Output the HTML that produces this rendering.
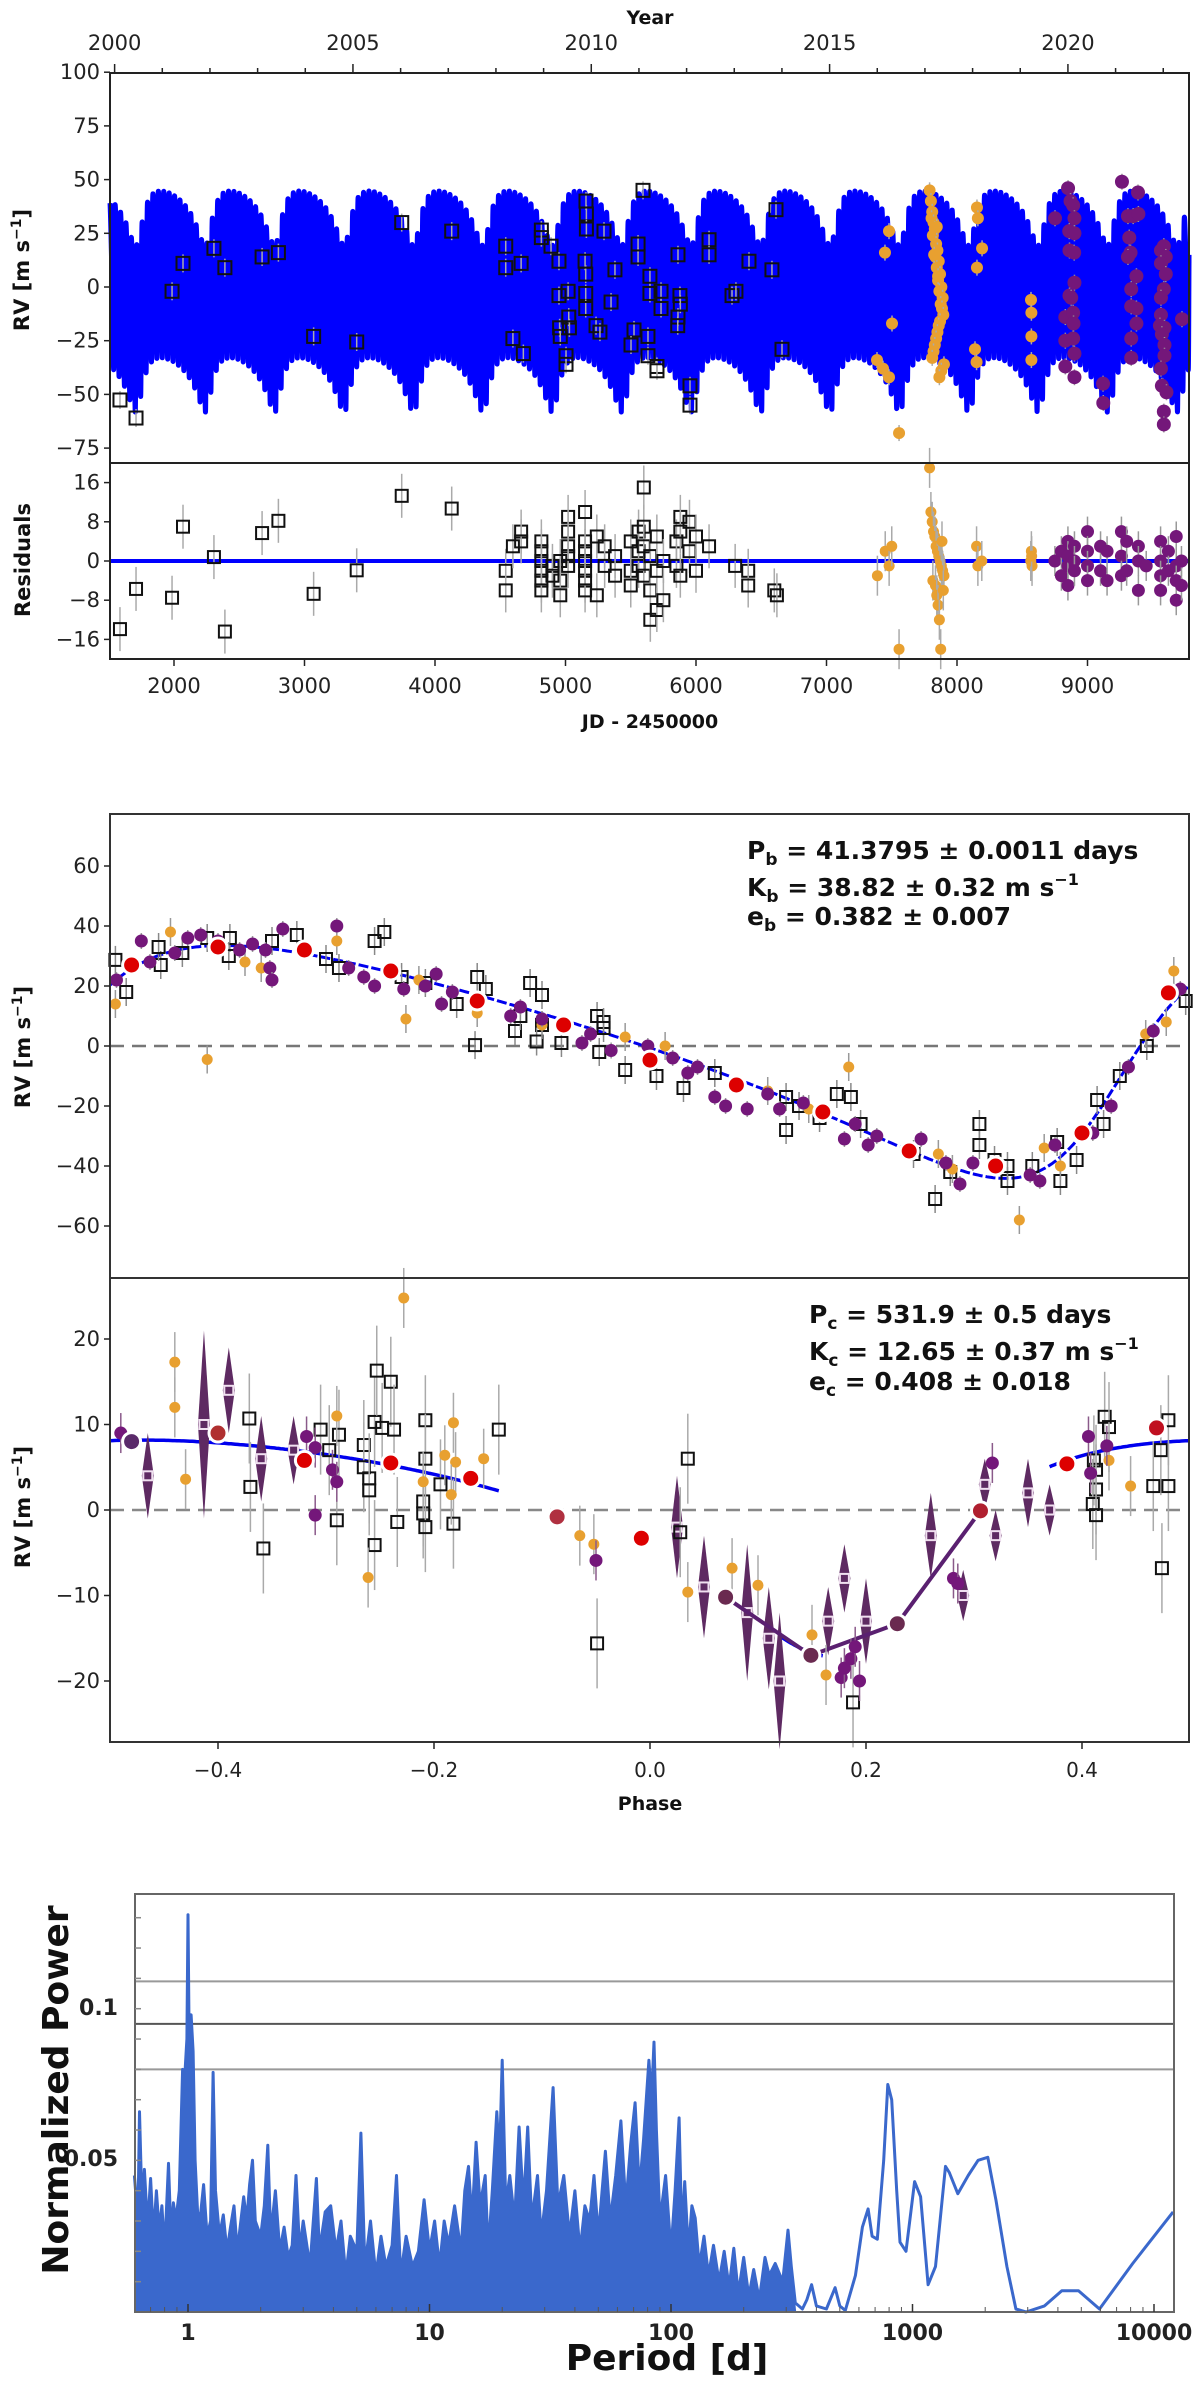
<!DOCTYPE html>
<html><head><meta charset="utf-8"><style>
html,body{margin:0;padding:0;background:#fff;}
svg{display:block;font-family:"DejaVu Sans","Liberation Sans",sans-serif;}
</style></head><body>
<svg id="fig" width="1200" height="2399" viewBox="0 0 1200 2399" xmlns="http://www.w3.org/2000/svg">
<rect width="1200" height="2399" fill="#fff"/>
<g id="p1"></g>
<g id="p1r"></g>
<g id="p2"></g>
<g id="p3"></g>
<g id="p4"></g>
</svg>
<script>
// ---------- planet parameters ----------
const planetB = {P:41.3795, K:38.82, e:0.382, w:-111, tp:1500, phPeri:0.42};
const planetC = {P:531.9, K:12.65, e:0.408, w:-150, tp:1724, phPeri:0.2};
// ---------- top panel data (JD-2450000, RV) ----------
const hiresJD = [1586,1709,1985,2069,2306,2390,2675,2800,3070,3400,3745,4128,4542,4542,4597,4660,4677,4815,4815,4889,4950,4950,4955,4960,5004,5004,5020,5025,5030,5157,5160,5160,5150,5155,5155,5155,5234,5295,5264,5379,5349,5556,5556,5594,5647,5647,5732,5732,5525,5502,5632,5632,5701,5701,5862,5877,5880,5862,5860,5954,5954,6100,6100,6406,6276,6306,6613,6582,6659];
const hiresRV = [-52.6,-61,-2,11,18,9,14,16,-23,-25.6,30,26,19,9,-24,11,-31,26.5,23,19,12,-4,-19,-23,-32,-36,-2,-14,-19,40,34,27,12,6,-3,-10,-18,26,-21,8,-7,20,14,45,5,-3,-2,-10,-20,-27,-23,-32,-37,-39,15,-4,-8,-14,-18,-46,-55,22,15,12,-4,-2,36,8,-29];
const harpsJD = [7479,7448,7502,7387,7433,7479,7556,7790,7800,7810,7805,7820,7830,7815,7840,7850,7835,7860,7845,7870,7855,7880,7865,7890,7875,7885,7895,7870,7860,7850,7840,7830,7820,7810,7900,7880,7865,7845,7825,7855,8153,8160,8192,8153,8138,8150,8567,8570,8570,8570];
const harpsRV = [26,16,-17,-34,-38,-42,-68,45,40,35,32,30,27,24,20,17,14,12,9,6,3,0,-2,-5,-8,-10,-13,-16,-18,-21,-24,-27,-30,-33,-36,-39,-42,28,15,5,37,32,18,9,-29,-35,-6,-12,-23,-34];
const carmJD = [8851,8870,8890,8900,8751,8860,8862,8900,8898,8900,8862,8875,8830,8890,8893,8830,8890,8900,8830,8900,9119,9121,9264,9387,9310,9350,9390,9320,9330,9310,9375,9335,9335,9375,9375,9335,9335,9563,9585,9600,9563,9600,9585,9563,9563,9724,9555,9590,9570,9590,9590,9563,9570,9605,9585,9585];
const carmRV = [46,40,38,32,32,26,17,25,16,2,-4,-5,-14,-12,-17,-25,-24,-31,-37,-42,-45,-54,49,44,33,33,34,23,16,14,5,-1,-9,-10,-17,-24,-33,17,19,14,11,6,-1,-5,-13,-15,-18,-19,-22,-27,-32,-38,-46,-49,-58,-64];
// ---------- residuals ----------
const resHiresJD = [1586,1709,1985,2069,2306,2390,2675,2800,3070,3400,3745,4128,4542,4542,4597,4660,4660,4815,4815,4815,4815,4815,4815,4900,4900,4960,4960,4960,5020,5020,5020,5020,5020,5150,5150,5150,5150,5150,5150,5150,5240,5240,5300,5300,5380,5380,5500,5500,5500,5560,5560,5560,5600,5600,5600,5600,5650,5650,5650,5700,5700,5700,5750,5750,5850,5850,5880,5880,5880,5950,5950,6000,6000,6100,6300,6400,6400,6600,6620];
const resHiresV = [-13.9,-5.7,-7.5,7,0.8,-14.4,5.7,8.2,-6.7,-1.9,13.3,10.7,-2,-6,3,6,4,4,2,0,-2,-4,-6,-1,-3,0,-4,-7,9,6,3,1,-1,10,4,2,0,-2,-4,-6,5,-7,3,-1,1,-3,4,-2,-5,6,2,-1,15,7,3,-3,1,-6,-12,5,-2,-10,0,-8,4,-1,9,6,-3,8,2,5,-2,3,-1,-2,-5,-6,-7];
const resHarpsJD = [7390,7450,7480,7500,7556,7790,7800,7810,7820,7830,7840,7850,7860,7870,7880,7890,7900,7815,7835,7845,7855,7865,7875,7885,7895,8150,8160,8190,8570,8575,8565,8572];
const resHarpsV = [-3,2,-1,3,-18,19,10,8,6,5,3,2,1,0,-1,-2,-3,-4,-5,-7,-9,-12,-18,4,-6,3,-1,0,2,-1,0,1];
const resCarmJD = [8750,8800,8800,8850,8850,8850,8850,8900,8900,8900,9000,9000,9000,9000,9100,9100,9150,9150,9260,9260,9260,9300,9300,9390,9390,9390,9450,9560,9560,9560,9560,9620,9620,9680,9680,9680,9680,9720,9720];
const resCarmV = [0,2,-3,4,-1,1,-5,3,0,-2,6,2,-1,-4,3,-2,2,-4,6,1,-3,4,-2,3,0,-6,-1,4,0,-3,-6,2,-2,5,-1,-4,-8,0,-5];
// ---------- phase b ----------
const binBPh = [-0.48,-0.40,-0.32,-0.24,-0.16,-0.08,0.0,0.08,0.16,0.24,0.32,0.40,0.48];
const binBRV = [27,33,32,25,15,7,-4.7,-13,-22,-35,-40,-29,17.7];
const hiresBPh = [-0.495,-0.485,-0.453,-0.455,-0.433,-0.41,-0.389,-0.39,-0.35,-0.327,-0.3,-0.288,-0.255,-0.246,-0.23,-0.208,-0.179,-0.162,-0.16,-0.152,-0.125,-0.12,-0.111,-0.10,-0.10,-0.105,-0.082,-0.049,-0.047,-0.043,-0.043,-0.023,0.006,0.031,0.06,0.126,0.138,0.126,0.157,0.173,0.186,0.195,0.244,0.264,0.278,0.305,0.305,0.319,0.331,0.331,0.354,0.377,0.395,0.38,0.414,0.42,0.435,0.46,0.496];
const hiresBRV = [28.7,18,27,33,31,36,36,30,35,37,29,26,35,38,23,21,14,0.3,23,19,5,10,21,17,7,1.5,1,10,-2,8,6,-8,-10,-14,-9,-17,-20,-28,-24,-16,-17,-26,-36,-51,-42,-26,-33,-38,-45,-40,-40,-32,-38,-45,-18,-26,-10,0,15];
const carmBPh = [-0.494,-0.471,-0.463,-0.44,-0.428,-0.416,-0.4,-0.38,-0.368,-0.356,-0.352,-0.35,-0.34,-0.29,-0.279,-0.265,-0.255,-0.228,-0.208,-0.198,-0.193,-0.183,-0.129,-0.12,-0.10,-0.063,-0.055,-0.036,-0.002,0.021,0.035,0.044,0.06,0.07,0.09,0.109,0.12,0.142,0.18,0.19,0.202,0.21,0.251,0.274,0.287,0.299,0.352,0.361,0.375,0.41,0.427,0.443,0.466,0.491];
const carmBRV = [22,35,28,31,36,37,35,32,34,32,26,22,39,40,26,23,20,19,20,24,14,18,10,13,9,1,4,-1.5,0,-4,-9,-7,-17,-20,-21,-16,-21,-19,-31,-26,-33,-30,-31,-39,-46,-39,-43,-45,-33,-29,-20,-7,5,19];
const harpsBPh = [-0.495,-0.444,-0.41,-0.375,-0.36,-0.29,-0.226,-0.214,-0.16,-0.1,-0.023,0.014,0.109,0.147,0.184,0.267,0.28,0.342,0.365,0.38,0.459,0.478,0.485];
const harpsBRV = [14,38,-4.5,28,26,35,9,22,11,7,3,0,-15,-21,-7,-36,-41,-58,-34,-40,4,8,25];
// ---------- phase c ----------
const binCPh = [-0.48,-0.40,-0.32,-0.24,-0.166,-0.086,-0.008,0.07,0.149,0.229,0.306,0.386,0.469];
const binCRV = [8,9,5.8,5.5,3.7,-0.8,-3.3,-10.2,-17,-13.3,-0.1,5.4,9.6];
const binCCol = ['#5a2a6a','#b03030','#dd0000','#dd0000','#dd0000','#b03040','#dd0000','#6a2a50','#6a2a50','#6a2a50','#b02030','#dd0000','#c01020'];
const hiresCPh = [-0.371,-0.37,-0.358,-0.305,-0.288,-0.297,-0.29,-0.265,-0.265,-0.26,-0.26,-0.255,-0.255,-0.253,-0.24,-0.248,-0.237,-0.234,-0.208,-0.208,-0.21,-0.21,-0.208,-0.194,-0.182,-0.14,-0.049,0.035,0.028,0.188,0.421,0.425,0.411,0.413,0.413,0.41,0.413,0.473,0.466,0.48,0.474,0.48];
const hiresCRV = [10.7,2.7,-4.5,9.4,8.8,7,-1.2,7.6,5,3.7,2.3,-4.1,10.3,16.3,15,9.6,9.4,-1.4,10.5,6,1,-0.4,-2,3,-1.6,9.4,-15.6,6,-2.6,-22.5,10.9,9.7,5.8,4.7,2.4,0.7,-0.6,7,2.8,2.8,-6.8,10.5];
const harpsCPh = [-0.44,-0.44,-0.43,-0.29,-0.261,-0.228,-0.182,-0.19,-0.18,-0.184,-0.154,-0.21,-0.065,-0.052,0.076,0.1,0.15,0.163,0.035,0.445,0.425];
const harpsCRV = [17.3,12,3.6,11,-7.9,24.8,10.2,6.4,5.6,1.8,6,3.3,-3,-4,-6.8,-8.8,-14.6,-19.3,-9.6,2.8,5.8];
const carmCPh = [-0.49,-0.318,-0.31,-0.294,-0.29,-0.31,-0.05,0.406,0.408,0.423,0.281,0.285,0.177,0.186,0.19,0.194,0.18,0.317];
const carmCRV = [9,8.6,7.3,4.7,3.3,-0.6,-5.9,8.6,4.3,7.5,-8,-8.6,-19.6,-17.4,-16,-20,-18.5,5.5];
const smearCPh = [-0.465,-0.413,-0.39,-0.36,-0.33,0.025,0.05,0.09,0.11,0.12,0.165,0.18,0.2,0.26,0.29,0.31,0.32,0.35,0.37];
const smearCRV = [4,10,14,6,7,-2,-9,-12,-15,-20,-13,-8,-13,-3,-10,3,-3,2,0];
const smearCErr = [5,11,5,5,4,6,6,8,6,8,4,4,5,5,3,3,3,4,3];
// ---------- periodogram ----------
const perP = [0.6,0.62,0.63,0.645,0.66,0.68,0.7,0.72,0.74,0.76,0.78,0.8,0.83,0.85,0.87,0.89,0.92,0.95,0.97,0.99,1.0,1.01,1.03,1.05,1.07,1.1,1.13,1.16,1.2,1.24,1.27,1.3,1.35,1.4,1.45,1.5,1.55,1.6,1.7,1.75,1.8,1.85,1.9,2.0,2.07,2.14,2.2,2.3,2.4,2.5,2.6,2.7,2.8,2.9,3.0,3.2,3.4,3.5,3.7,3.9,4.1,4.3,4.5,4.7,5.0,5.2,5.4,5.7,6.0,6.3,6.6,7.0,7.3,7.6,8.0,8.5,9.0,9.5,10,10.5,11,11.5,12,12.7,13.5,14,14.5,15,15.6,16.2,17,17.5,18.2,19,19.5,20,20.7,21.5,22.5,23.5,24.5,25.5,26.5,28,29,30.5,32.5,34,36,38,40,42,44,46,48,50,53.5,56,59,62,65,68,71,74,77,81,83,85,87,90,95,100,104,108,111,114,118,122,126,131,137,143,150,158,166,174,182,190,200,210,220,232,245,255,270,290,305,315,327,350,365,382,400,440,478,500,527,580,620,655,680,715,760,790,820,860,888,940,1020,1080,1160,1245,1370,1420,1540,1700,1870,2050,2215,2460,2680,2950,3520,4150,4870,5950,8160,12000];
const perPow = [0.045,0.03,0.066,0.035,0.047,0.028,0.044,0.025,0.04,0.027,0.035,0.02,0.049,0.025,0.036,0.03,0.04,0.08,0.078,0.09,0.131,0.095,0.098,0.086,0.05,0.03,0.033,0.042,0.025,0.03,0.079,0.04,0.025,0.032,0.02,0.028,0.035,0.02,0.038,0.03,0.042,0.05,0.03,0.025,0.035,0.055,0.025,0.04,0.02,0.028,0.018,0.022,0.045,0.02,0.03,0.015,0.044,0.02,0.033,0.035,0.02,0.03,0.012,0.025,0.02,0.059,0.015,0.03,0.012,0.025,0.015,0.022,0.045,0.012,0.025,0.015,0.02,0.037,0.02,0.03,0.015,0.03,0.022,0.035,0.02,0.04,0.048,0.03,0.056,0.035,0.045,0.02,0.04,0.066,0.05,0.083,0.035,0.045,0.03,0.061,0.035,0.061,0.03,0.045,0.025,0.04,0.074,0.035,0.045,0.025,0.04,0.02,0.035,0.03,0.045,0.025,0.053,0.03,0.045,0.063,0.035,0.055,0.069,0.04,0.057,0.083,0.07,0.089,0.06,0.03,0.045,0.02,0.04,0.064,0.025,0.043,0.02,0.035,0.031,0.015,0.025,0.012,0.022,0.01,0.02,0.008,0.021,0.006,0.018,0.005,0.014,0.004,0.018,0.012,0.016,0.01,0.027,0.015,0.003,0.001,0.004,0.009,0.002,0.001,0.008,0.002,0.0005,0.012,0.028,0.034,0.025,0.024,0.05,0.075,0.07,0.04,0.023,0.02,0.043,0.038,0.009,0.015,0.048,0.046,0.039,0.045,0.05,0.051,0.037,0.015,0.001,0,0.002,0.007,0.007,0.001,0.016,0.033];
const perFap = [0.109,0.095,0.08];
const perTicks = [1,10,100,1000,10000];

const NS='http://www.w3.org/2000/svg';
function mk(parent,tag,attrs,txt){const e=document.createElementNS(NS,tag);for(const k in attrs)e.setAttribute(k,attrs[k]);if(txt!==undefined)e.textContent=txt;parent.appendChild(e);return e;}
function solveE(M,e){let E=M;for(let i=0;i<30;i++)E=E-(E-e*Math.sin(E)-M)/(1-e*Math.cos(E));return E;}
function kep(frac,pl){const M=2*Math.PI*(frac-Math.floor(frac));const E=solveE(M,pl.e);const nu=2*Math.atan2(Math.sqrt(1+pl.e)*Math.sin(E/2),Math.sqrt(1-pl.e)*Math.cos(E/2));const w=pl.w*Math.PI/180;return pl.K*(Math.cos(nu+w)+pl.e*Math.cos(w));}

const L=110,R=1189;
// ===== Panel 1 =====
const p1=document.getElementById('p1');
const xJD=j=>174+(j-2000)*0.1305;
const y1=v=>287-v*2.148;
const yR=v=>561-v*4.9;
// model band
(function(){let pts=[];for(let t=1510;t<=9778;t+=0.5){const v=kep((t-planetB.tp)/planetB.P,planetB)+kep((t-planetC.tp)/planetC.P,planetC)+3;pts.push(xJD(t).toFixed(2)+','+y1(v).toFixed(1));}
const pl=mk(p1,'polyline',{points:pts.join(' '),fill:'none',stroke:'#0000ff','stroke-width':5,'stroke-linejoin':'round'});

})();
function errbar(g,x,y1v,y2v,col,w){const l=mk(g,'line',{x1:x,x2:x,y1:y1v,y2:y2v,stroke:col,'stroke-width':w||1.5});}
function sq(g,x,y,s,col,name){const r=mk(g,'rect',{x:x-s/2,y:y-s/2,width:s,height:s,fill:'none',stroke:col||'#111','stroke-width':2});}
function dot(g,x,y,r,col,name,stroke){const c=mk(g,'circle',{cx:x,cy:y,r:r,fill:col});if(stroke){c.setAttribute('stroke',stroke);c.setAttribute('stroke-width',3);}}
const ORG='#e8a030',PUR='#74177a';
hiresJD.forEach((j,i)=>{const x=xJD(j),y=y1(hiresRV[i]);errbar(p1,x,y-9,y+9,'#aaa');sq(p1,x,y,13,'#111','hires-point');});
harpsJD.forEach((j,i)=>{const x=xJD(j),y=y1(harpsRV[i]);errbar(p1,x,y-8,y+8,'#aaa');dot(p1,x,y,6,ORG,'harps-point');});
carmJD.forEach((j,i)=>{const x=xJD(j),y=y1(carmRV[i]);errbar(p1,x,y-8,y+8,'#999');dot(p1,x,y,7,PUR,'carmenes-point');});
// frame & axes
mk(p1,'rect',{x:L,y:73,width:R-L,height:463-73,fill:'none',stroke:'#222','stroke-width':2});
[100,75,50,25,0,-25,-50,-75].forEach(v=>{mk(p1,'line',{x1:L-6,x2:L,y1:y1(v),y2:y1(v),stroke:'#222','stroke-width':1.5});const t=mk(p1,'text',{x:L-10,y:y1(v)+7,'text-anchor':'end','font-size':21,fill:'#222'},v<0?'\u2212'+(-v):v);});
for(let yr=2000;yr<=2022;yr++){const x=xJD(1545+(yr-2000)*365.25);if(x<L||x>R)continue;const maj=yr%5===0;mk(p1,'line',{x1:x,x2:x,y1:73,y2:maj?64:68,stroke:'#222','stroke-width':1.5});if(maj){const t=mk(p1,'text',{x:x,y:50,'text-anchor':'middle','font-size':21,fill:'#222'},yr);}}
{const t=mk(p1,'text',{x:650,y:24,'text-anchor':'middle','font-size':19,'font-weight':'bold',fill:'#111'},'Year');}
{const t=mk(p1,'text',{x:0,y:0,'text-anchor':'middle','font-size':21,'font-weight':'bold',fill:'#111',transform:'translate(29,270) rotate(-90)'});mk(t,'tspan',{},'RV [m s');mk(t,'tspan',{dy:-8,'font-size':14},'\u22121');mk(t,'tspan',{dy:8},']');}
// ===== Residuals =====
const pr=document.getElementById('p1r');
{const l=mk(pr,'line',{x1:L,x2:R,y1:yR(0),y2:yR(0),stroke:'#0000ff','stroke-width':4});}
resHiresJD.forEach((j,i)=>{const x=xJD(j),y=yR(resHiresV[i]);errbar(pr,x,y-22,y+22,'#aaa');sq(pr,x,y,12,'#111','residual-hires');});
resHarpsJD.forEach((j,i)=>{const x=xJD(j),y=yR(resHarpsV[i]);errbar(pr,x,y-20,y+20,'#aaa');dot(pr,x,y,5.5,ORG,'residual-harps');});
resCarmJD.forEach((j,i)=>{const x=xJD(j),y=yR(resCarmV[i]);errbar(pr,x,y-15,y+15,'#999');dot(pr,x,y,6.5,PUR,'residual-carmenes');});
mk(pr,'rect',{x:L,y:463,width:R-L,height:659-463,fill:'none',stroke:'#222','stroke-width':2});
[16,8,0,-8,-16].forEach(v=>{mk(pr,'line',{x1:L-6,x2:L,y1:yR(v),y2:yR(v),stroke:'#222','stroke-width':1.5});const t=mk(pr,'text',{x:L-10,y:yR(v)+7,'text-anchor':'end','font-size':21,fill:'#222'},v<0?'\u2212'+(-v):v);});
[2000,3000,4000,5000,6000,7000,8000,9000].forEach(j=>{const x=xJD(j);mk(pr,'line',{x1:x,x2:x,y1:659,y2:666,stroke:'#222','stroke-width':1.5});const t=mk(pr,'text',{x:x,y:693,'text-anchor':'middle','font-size':21,fill:'#222'},j);});
{const t=mk(pr,'text',{x:650,y:728,'text-anchor':'middle','font-size':19,'font-weight':'bold',fill:'#111'},'JD - 2450000');}
{const t=mk(pr,'text',{x:0,y:0,'text-anchor':'middle','font-size':21,'font-weight':'bold',fill:'#111',transform:'translate(30,560) rotate(-90)'},'Residuals');}
// ===== Phase panels =====
const xPh=p=>650+p*1080;
const y2=v=>1046-v*3;
const y3=v=>1510-v*8.55;
function rvLabel(g,cy){const t=mk(g,'text',{x:0,y:0,'text-anchor':'middle','font-size':21,'font-weight':'bold',fill:'#111',transform:'translate(30,'+cy+') rotate(-90)'});mk(t,'tspan',{},'RV [m s');mk(t,'tspan',{dy:-8,'font-size':14},'\u22121');mk(t,'tspan',{dy:8},']');}
function paramText(g,x,ys,sym,sub,lines){lines.forEach((ln,i)=>{const t=mk(g,'text',{x:x,y:ys[i],'font-size':25,'font-weight':'bold',fill:'#111'});mk(t,'tspan',{},sym[i]);mk(t,'tspan',{dy:6,'font-size':17},sub);mk(t,'tspan',{dy:-6},ln[0]);if(ln[1]){mk(t,'tspan',{dy:-11,'font-size':16},ln[1]);}});}
// panel 2
const p2=document.getElementById('p2');
mk(p2,'line',{x1:L,x2:R,y1:y2(0),y2:y2(0),stroke:'#777','stroke-width':2.5,'stroke-dasharray':'14,8'});
(function(){let pts=[];for(let p=-0.5;p<=0.5;p+=0.002){pts.push(xPh(p).toFixed(1)+','+y2(kep(p-planetB.phPeri,planetB)).toFixed(1));}const pl=mk(p2,'polyline',{points:pts.join(' '),fill:'none',stroke:'#0000ee','stroke-width':3,'stroke-dasharray':'10,3'});})();
hiresBPh.forEach((p,i)=>{const x=xPh(p),y=y2(hiresBRV[i]);errbar(p2,x,y-14,y+14,'#888');sq(p2,x,y,12,'#111','hires-phase-point');});
harpsBPh.forEach((p,i)=>{const x=xPh(p),y=y2(harpsBRV[i]);errbar(p2,x,y-14,y+14,'#999');dot(p2,x,y,5.5,ORG,'harps-phase-point');});
carmBPh.forEach((p,i)=>{const x=xPh(p),y=y2(carmBRV[i]);errbar(p2,x,y-8,y+8,'#999');dot(p2,x,y,6.5,PUR,'carmenes-phase-point');});
binBPh.forEach((p,i)=>dot(p2,xPh(p),y2(binBRV[i]),9,'#dd0000','binned-point','#fff'));
mk(p2,'rect',{x:L,y:814,width:R-L,height:1278-814,fill:'none',stroke:'#333','stroke-width':2});
[60,40,20,0,-20,-40,-60].forEach(v=>{mk(p2,'line',{x1:L-6,x2:L,y1:y2(v),y2:y2(v),stroke:'#222','stroke-width':1.5});const t=mk(p2,'text',{x:L-10,y:y2(v)+7,'text-anchor':'end','font-size':21,fill:'#222'},v<0?'\u2212'+(-v):v);});
rvLabel(p2,1047);
{const lns=[[' = 41.3795 \u00b1 0.0011 days'],[' = 38.82 \u00b1 0.32 m s','\u22121'],[' = 0.382 \u00b1 0.007']];paramText(p2,747,[859,896,925],['P','K','e'],'b',lns);}
// panel 3
const p3=document.getElementById('p3');
mk(p3,'line',{x1:L,x2:R,y1:y3(0),y2:y3(0),stroke:'#888','stroke-width':2.5,'stroke-dasharray':'14,8'});
[[-0.5,-0.14],[0.12,0.16],[0.37,0.5]].forEach(seg=>{let pts=[];for(let p=seg[0];p<=seg[1]+1e-9;p+=0.002){pts.push(xPh(p).toFixed(1)+','+y3(kep(p-planetC.phPeri,planetC)).toFixed(1));}const pl=mk(p3,'polyline',{points:pts.join(' '),fill:'none',stroke:'#0000ee','stroke-width':3.5});});
smearCPh.forEach((p,i)=>{const x=xPh(p),y=y3(smearCRV[i]),e=smearCErr[i]*8.55;const path=mk(p3,'path',{d:`M${x},${y-e} L${x+6},${y} L${x},${y+e} L${x-6},${y} Z`,fill:'#5e2a62'});sq(p3,x,y,9,'#f0e0f0','smeared-marker');});
{const pts=[0.07,0.149,0.229,0.306].map((p,i)=>xPh(p)+','+y3([-10.2,-17,-13.3,-0.1][i]));const pl=mk(p3,'polyline',{points:pts.join(' '),fill:'none',stroke:'#5a2070','stroke-width':4});}
hiresCPh.forEach((p,i)=>{const x=xPh(p),y=y3(hiresCRV[i]);errbar(p3,x,y-45,y+45,'#aaa');sq(p3,x,y,12,'#111','hires-phase-point');});
harpsCPh.forEach((p,i)=>{const x=xPh(p),y=y3(harpsCRV[i]);errbar(p3,x,y-30,y+30,'#aaa');dot(p3,x,y,5.5,ORG,'harps-phase-point');});
carmCPh.forEach((p,i)=>{const x=xPh(p),y=y3(carmCRV[i]);errbar(p3,x,y-20,y+20,'#8a5a8a');dot(p3,x,y,6.5,PUR,'carmenes-phase-point');});
binCPh.forEach((p,i)=>dot(p3,xPh(p),y3(binCRV[i]),9,binCCol[i],'binned-point','#fff'));
mk(p3,'rect',{x:L,y:1278,width:R-L,height:1742-1278,fill:'none',stroke:'#333','stroke-width':2});
[20,10,0,-10,-20].forEach(v=>{mk(p3,'line',{x1:L-6,x2:L,y1:y3(v),y2:y3(v),stroke:'#222','stroke-width':1.5});const t=mk(p3,'text',{x:L-10,y:y3(v)+7,'text-anchor':'end','font-size':21,fill:'#222'},v<0?'\u2212'+(-v):v);});
[-0.4,-0.2,0,0.2,0.4].forEach(p=>{const x=xPh(p);mk(p3,'line',{x1:x,x2:x,y1:1742,y2:1749,stroke:'#222','stroke-width':1.5});const t=mk(p3,'text',{x:x,y:1777,'text-anchor':'middle','font-size':20,fill:'#222'},(p<0?'\u2212':'')+Math.abs(p).toFixed(1));});
{const t=mk(p3,'text',{x:650,y:1810,'text-anchor':'middle','font-size':19,'font-weight':'bold',fill:'#111'},'Phase');}
rvLabel(p3,1507);
{const lns=[[' = 531.9 \u00b1 0.5 days'],[' = 12.65 \u00b1 0.37 m s','\u22121'],[' = 0.408 \u00b1 0.018']];paramText(p3,809,[1323,1360,1390],['P','K','e'],'c',lns);}
// ===== Periodogram =====
const p4=document.getElementById('p4');
const PL=135,PR=1174,PT=1894,PB=2312;
const xP=p=>188+Math.log10(p)*241.5;
const yP=v=>PB-v*3033;
perFap.forEach((f,i)=>{const l=mk(p4,'line',{x1:PL,x2:PR,y1:yP(f),y2:yP(f),stroke:i===1?'#555':'#999','stroke-width':2});});
(function(){const ptsAll=perP.map((p,i)=>xP(p).toFixed(1)+','+yP(perPow[i]).toFixed(1));const dense=[];perP.forEach((p,i)=>{if(p<=330)dense.push(ptsAll[i]);});
const area=mk(p4,'polygon',{points:xP(perP[0]).toFixed(1)+','+PB+' '+dense.join(' ')+' '+xP(330).toFixed(1)+','+PB,fill:'#3a68cc'});
const line=mk(p4,'polyline',{points:ptsAll.join(' '),fill:'none',stroke:'#3a68cc','stroke-width':3,'stroke-linejoin':'round'});})();
mk(p4,'rect',{x:PL,y:PT,width:PR-PL,height:PB-PT,fill:'none',stroke:'#666','stroke-width':2});
for(let v=0.01;v<0.135;v+=0.01){mk(p4,'line',{x1:PL,x2:PL+6,y1:yP(v),y2:yP(v),stroke:'#888','stroke-width':1.5});}
[[0.1,'0.1',2015],[0.05,'0.05',2166]].forEach(d=>{const t=mk(p4,'text',{x:118,y:d[2],'text-anchor':'end','font-size':22,'font-weight':'bold',fill:'#222'},d[1]);});
perTicks.forEach(p=>{const x=xP(p);mk(p4,'line',{x1:x,x2:x,y1:PB,y2:PB-8,stroke:'#333','stroke-width':1.5});const t=mk(p4,'text',{x:x,y:2340,'text-anchor':'middle','font-size':22,'font-weight':'bold',fill:'#222'},p);});
for(let d=0;d<5;d++){for(let m=2;m<10;m++){const p=Math.pow(10,d-1)*m;const x=xP(p);if(x<PL||x>PR)continue;mk(p4,'line',{x1:x,x2:x,y1:PB,y2:PB-5,stroke:'#555','stroke-width':1});}}
{const t=mk(p4,'text',{x:667,y:2370,'text-anchor':'middle','font-size':36,'font-weight':'bold',fill:'#111'},'Period [d]');}
{const t=mk(p4,'text',{x:0,y:0,'text-anchor':'middle','font-size':36,'font-weight':'bold',fill:'#111',transform:'translate(68,2090) rotate(-90)'},'Normalized Power');}
</script>
</body></html>
